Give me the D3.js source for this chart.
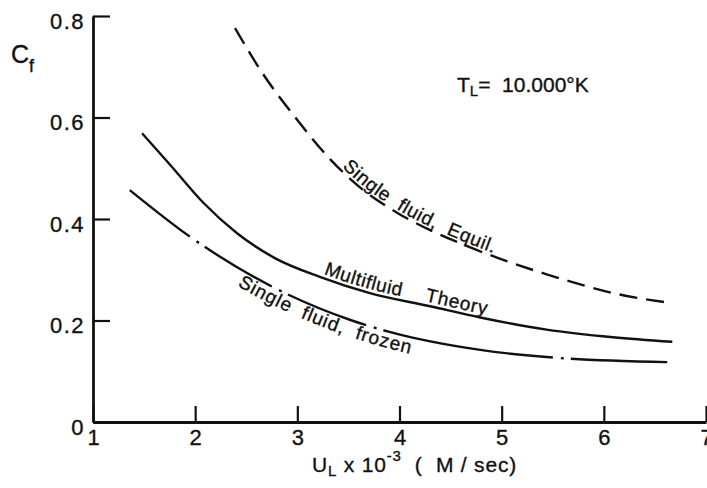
<!DOCTYPE html>
<html><head><meta charset="utf-8">
<script src="https://cdn.jsdelivr.net/npm/d3@7"></script>
<style>
html,body{margin:0;padding:0;background:#fff;}
svg{display:block;}
text{font-family:"Liberation Sans",Arial,sans-serif;fill:#111;stroke:#111;stroke-width:0.35px;}
</style></head>
<body><svg id="chart" width="707" height="488"></svg>
<script>
// ---- data ----
const xTicks = [1, 2, 3, 4, 5, 6, 7];
const xTickLabels = ["1", "2", "3", "4", "5", "6", "7"];
const yTicks = [0, 0.2, 0.4, 0.6, 0.8];
const yTickLabels = ["0", "0.2", "0.4", "0.6", "0.8"];

// Single fluid, Equil. (dashed)
const equilU  = [2.39, 2.66, 3.00, 3.32, 3.64, 3.98, 4.30, 4.62, 4.98, 5.44, 5.77, 6.09, 6.60];
const equilCf = [0.776, 0.687, 0.595, 0.518, 0.458, 0.412, 0.378, 0.350, 0.322, 0.291, 0.271, 0.254, 0.236];
// Multifluid Theory (solid)
const multiU  = [1.48, 1.75, 2.08, 2.41, 2.78, 3.22, 3.71, 4.30, 4.79, 5.44, 6.09, 6.67];
const multiCf = [0.569, 0.508, 0.432, 0.372, 0.323, 0.286, 0.254, 0.228, 0.206, 0.182, 0.167, 0.158];
// Single fluid, frozen (dash-dot)
const frozenU  = [1.36, 1.95, 2.76, 3.52, 3.91, 4.79, 5.57, 6.62];
const frozenCf = [0.457, 0.365, 0.266, 0.201, 0.177, 0.142, 0.126, 0.118];

const seriesNames = ["Single  fluid,  Equil.", "Multifluid    Theory", "Single  fluid,  frozen"];

// ---- chart ----
const svg = d3.select("#chart");
const x = d3.scaleLinear().domain([1, 7]).range([93, 706]);
const y = d3.scaleLinear().domain([0, 0.8]).range([422, 16]);

const zip = (a, b) => a.map((v, i) => [v, b[i]]);
const line = d3.line().x(d => x(d[0])).y(d => y(d[1])).curve(d3.curveMonotoneX);

// axes
const yAxis = d3.axisLeft(y).tickValues(yTicks).tickFormat((d, i) => yTickLabels[i])
  .tickSizeInner(-17).tickSizeOuter(0).tickPadding(8);
const xAxis = d3.axisBottom(x).tickValues(xTicks).tickFormat((d, i) => xTickLabels[i])
  .tickSizeInner(-16).tickSizeOuter(0).tickPadding(7);

const gy = svg.append("g").attr("transform", "translate(93,0)").call(yAxis);
const gx = svg.append("g").attr("transform", "translate(0,422)").call(xAxis);
[gx, gy].forEach(g => {
  g.select(".domain").attr("stroke", "#111").attr("stroke-width", 2.8);
  g.selectAll(".tick line").attr("stroke", "#111").attr("stroke-width", 2.2);
  g.selectAll(".tick text").attr("font-size", 22).attr("fill", "#111")
    .style("font-family", '"Liberation Sans", Arial, sans-serif');
});
gy.selectAll(".tick text").attr("dy", "0.55em").attr("letter-spacing", 1.5);

// axis titles
const cf = svg.append("text").attr("x", 11).attr("y", 63).attr("font-size", 25);
cf.append("tspan").text("C");
cf.append("tspan").attr("font-size", 18).attr("dy", 9).text("f");

const xt = svg.append("text").attr("x", 312).attr("y", 472).attr("font-size", 21)
  .attr("letter-spacing", 0.8).attr("xml:space", "preserve");
xt.append("tspan").text("U");
xt.append("tspan").attr("font-size", 15).attr("dy", 4).text("L");
xt.append("tspan").attr("dy", -4).text(" x 10");
xt.append("tspan").attr("font-size", 15).attr("dy", -11).text("-3");
xt.append("tspan").attr("dy", 11).text("  (  M / sec)");

const tl = svg.append("text").attr("x", 457).attr("y", 92).attr("font-size", 21)
  .attr("xml:space", "preserve");
tl.append("tspan").text("T");
tl.append("tspan").attr("font-size", 15).attr("dy", 4).text("L");
tl.append("tspan").attr("dy", -4).text("=  10.000°K");

// curves
const curves = [
  {id: "equil", data: zip(equilU, equilCf), dash: "18,9", name: seriesNames[0], from: 340, dy: -3},
  {id: "multi", data: zip(multiU, multiCf), dash: null, name: seriesNames[1], from: 322, dy: -4},
  {id: "frozen", data: zip(frozenU, frozenCf), dash: "76,8,3,7,78,8,3,7,84,8,3,7,172,8,3,7,400", name: seriesNames[2], from: 245, dy: 16}
];

curves.forEach(c => {
  const p = svg.append("path").attr("id", c.id).attr("d", line(c.data))
    .attr("fill", "none").attr("stroke", "#111").attr("stroke-width", 2.4);
  if (c.dash) p.attr("stroke-dasharray", c.dash);
  const node = p.node();
  const total = node.getTotalLength();
  let lo = 0, hi = total;
  for (let k = 0; k < 40; k++) {
    const mid = (lo + hi) / 2;
    if (node.getPointAtLength(mid).x < c.from) lo = mid; else hi = mid;
  }
  svg.append("text").attr("font-size", 19).attr("letter-spacing", 0.7)
    .attr("xml:space", "preserve")
    .append("textPath").attr("href", "#" + c.id).attr("startOffset", lo)
    .append("tspan").attr("dy", c.dy).text(c.name);
});
</script></body></html>
